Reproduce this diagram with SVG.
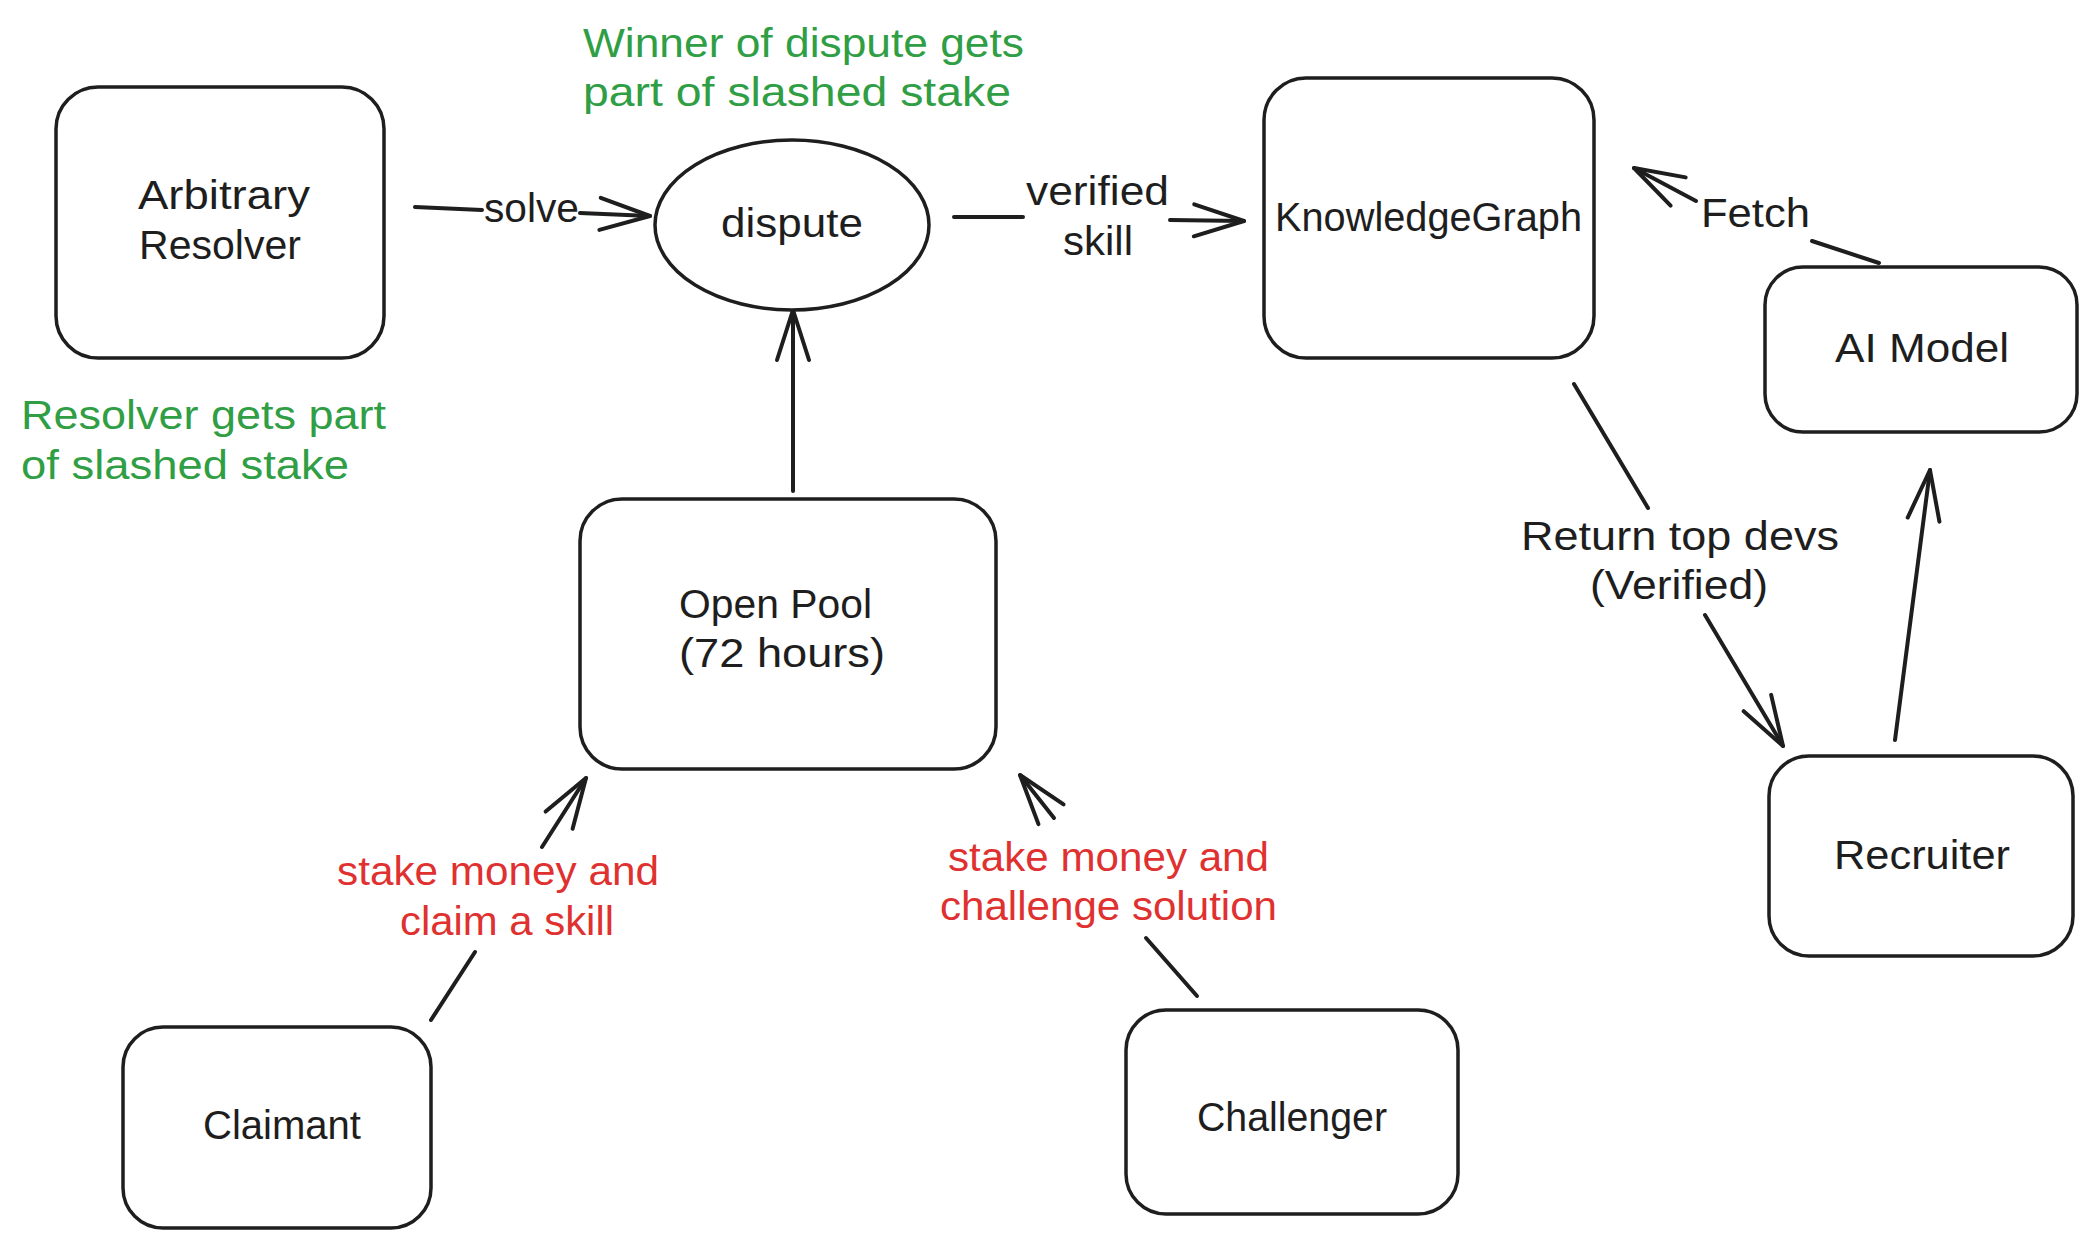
<svg xmlns="http://www.w3.org/2000/svg" width="2097" height="1249" viewBox="0 0 2097 1249">
<style>
.box{fill:#ffffff;stroke:#1e1e1e;stroke-width:3.5;stroke-linejoin:round}
.edge{fill:none;stroke:#1e1e1e;stroke-width:4;stroke-linecap:round;stroke-linejoin:round}
.t{font-family:"Liberation Sans",Arial,sans-serif;font-size:40px;fill:#1e1e1e}
.g{fill:#2f9e44}
.r{fill:#e03131}
</style>
<defs>
<marker id="arrow" markerUnits="userSpaceOnUse" orient="auto" refX="0" refY="0" markerWidth="80" markerHeight="80" overflow="visible">
<path d="M -50 -16 L 0 0 L -50 16" fill="none" stroke="#1e1e1e" stroke-width="4" stroke-linecap="round" stroke-linejoin="round"/>
</marker>
</defs>
<rect width="2097" height="1249" fill="#ffffff"/>

<g id="connectors">
<g id="edge-solve">
<path class="edge" d="M 415 207 L 482 210 M 580 213 L 650 216" marker-end="url(#arrow)"/>
<text class="t" x="484" y="222" textLength="95" lengthAdjust="spacingAndGlyphs">solve</text>
</g>
<g id="edge-verified">
<path class="edge" d="M 954 217 L 1023 217 M 1170 220 L 1244 221" marker-end="url(#arrow)"/>
<text class="t" x="1026" y="205" textLength="143" lengthAdjust="spacingAndGlyphs">verified</text>
<text class="t" x="1063" y="255" textLength="70" lengthAdjust="spacingAndGlyphs">skill</text>
</g>
<g id="edge-pool-dispute">
<path class="edge" d="M 793 491 L 793 310" marker-end="url(#arrow)"/>
</g>
<g id="edge-claimant-pool">
<path class="edge" d="M 431 1020 L 475 952 M 542 847 L 586 778" marker-end="url(#arrow)"/>
<text class="t r" x="337" y="885" textLength="322" lengthAdjust="spacingAndGlyphs">stake money and</text>
<text class="t r" x="400" y="935" textLength="214" lengthAdjust="spacingAndGlyphs">claim a skill</text>
</g>
<g id="edge-challenger-pool">
<path class="edge" d="M 1197 996 L 1146 938 M 1054 818 L 1020 775" marker-end="url(#arrow)"/>
<text class="t r" x="948" y="871" textLength="321" lengthAdjust="spacingAndGlyphs">stake money and</text>
<text class="t r" x="940" y="920" textLength="337" lengthAdjust="spacingAndGlyphs">challenge solution</text>
</g>
<g id="edge-fetch">
<path class="edge" d="M 1879 263 L 1812 241 M 1696 201 L 1634 168" marker-end="url(#arrow)"/>
<text class="t" x="1701" y="227" textLength="109" lengthAdjust="spacingAndGlyphs">Fetch</text>
</g>
<g id="edge-return">
<path class="edge" d="M 1574 384 L 1648 508 M 1705 615 L 1783 746" marker-end="url(#arrow)"/>
<text class="t" x="1521" y="550" textLength="318" lengthAdjust="spacingAndGlyphs">Return top devs</text>
<text class="t" x="1590" y="599" textLength="178" lengthAdjust="spacingAndGlyphs">(Verified)</text>
</g>
<g id="edge-recruiter-ai">
<path class="edge" d="M 1895 740 L 1930 470" marker-end="url(#arrow)"/>
</g>
</g>

<g id="node-arbitrary-resolver">
<rect class="box" x="56" y="87" width="328" height="271" rx="42"/>
<text class="t" x="138" y="209" textLength="172" lengthAdjust="spacingAndGlyphs">Arbitrary</text>
<text class="t" x="139" y="259" textLength="162" lengthAdjust="spacingAndGlyphs">Resolver</text>
</g>
<g id="node-dispute">
<ellipse class="box" cx="792" cy="225" rx="137" ry="85"/>
<text class="t" x="721" y="237" textLength="142" lengthAdjust="spacingAndGlyphs">dispute</text>
</g>
<g id="node-knowledgegraph">
<rect class="box" x="1264" y="78" width="330" height="280" rx="42"/>
<text class="t" x="1275" y="231" textLength="307" lengthAdjust="spacingAndGlyphs">KnowledgeGraph</text>
</g>
<g id="node-ai-model">
<rect class="box" x="1765" y="267" width="312" height="165" rx="38"/>
<text class="t" x="1835" y="362" textLength="174" lengthAdjust="spacingAndGlyphs">AI Model</text>
</g>
<g id="node-recruiter">
<rect class="box" x="1769" y="756" width="304" height="200" rx="40"/>
<text class="t" x="1834" y="869" textLength="176" lengthAdjust="spacingAndGlyphs">Recruiter</text>
</g>
<g id="node-open-pool">
<rect class="box" x="580" y="499" width="416" height="270" rx="42"/>
<text class="t" x="679" y="618" textLength="193" lengthAdjust="spacingAndGlyphs">Open Pool</text>
<text class="t" x="679" y="667" textLength="206" lengthAdjust="spacingAndGlyphs">(72 hours)</text>
</g>
<g id="node-claimant">
<rect class="box" x="123" y="1027" width="308" height="201" rx="40"/>
<text class="t" x="203" y="1139" textLength="158" lengthAdjust="spacingAndGlyphs">Claimant</text>
</g>
<g id="node-challenger">
<rect class="box" x="1126" y="1010" width="332" height="204" rx="40"/>
<text class="t" x="1197" y="1131" textLength="190" lengthAdjust="spacingAndGlyphs">Challenger</text>
</g>

<g id="annotations">
<text class="t g" x="583" y="57" textLength="441" lengthAdjust="spacingAndGlyphs">Winner of dispute gets</text>
<text class="t g" x="583" y="106" textLength="428" lengthAdjust="spacingAndGlyphs">part of slashed stake</text>
<text class="t g" x="21" y="429" textLength="365" lengthAdjust="spacingAndGlyphs">Resolver gets part</text>
<text class="t g" x="21" y="479" textLength="328" lengthAdjust="spacingAndGlyphs">of slashed stake</text>
</g>
</svg>
